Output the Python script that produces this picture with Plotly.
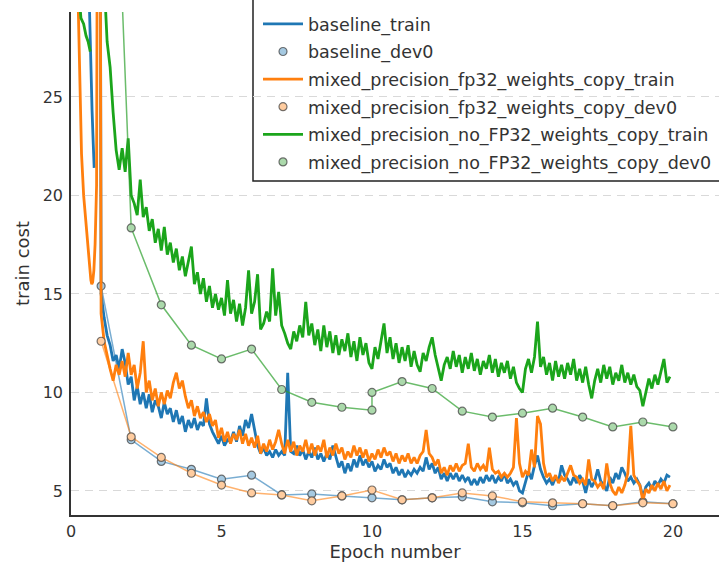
import numpy as np
import plotly.graph_objects as go

# ---------------- data ----------------
# regular sampling grid (epochs) used for the three training curves after epoch 1
train_epochs = list(np.round(np.arange(1.0, 19.95, 0.1), 1))

# early (pre-epoch-1) pieces of the training curves
baseline_pre_epochs = [0.58, 0.62, 0.66, 0.70, 0.74, 0.77]
baseline_pre_cost = [31.5, 28.5, 26.0, 24.3, 22.6, 21.4]
baseline_restart_epoch = [0.96]
baseline_restart_cost = [45.0]

fp32_pre_epochs = [0.22, 0.30, 0.35, 0.42, 0.52, 0.61, 0.66, 0.69, 0.72, 0.76, 0.80, 0.85, 0.89, 0.96]
fp32_pre_cost = [31.0, 25.0, 22.1, 20.0, 18.1, 16.4, 15.7, 15.5, 15.6, 16.2, 17.5, 20.5, 45.0, 45.0]

nofp32_pre_epochs = [0.25, 0.33, 0.42, 0.50, 0.57, 0.64]
nofp32_pre_cost = [30.5, 29.0, 28.7, 28.1, 27.8, 27.3]

baseline_train = [
    15.0, 13.8, 12.9, 12.4, 11.6, 11.9, 11.2, 12.2, 11.5, 10.4,
    10.8, 9.6, 10.3, 9.4, 10.0, 9.2, 9.9, 9.0, 9.6, 9.3,
    8.7, 9.5, 8.9, 9.2, 8.5, 9.1, 8.4, 8.8, 8.0, 8.6,
    8.2, 8.7, 8.1, 8.5, 8.3, 9.7, 8.4, 8.0, 7.7, 7.4,
    7.8, 7.3, 7.6, 7.5, 8.0, 7.5, 8.3, 7.8, 8.6, 8.2,
    8.9, 8.0, 7.3, 6.9, 7.2, 6.8, 7.0, 6.7, 7.1, 6.8,
    7.0, 6.8, 11.0, 7.0, 6.9, 7.3, 6.8, 7.1, 6.6, 7.0,
    6.7, 7.2, 6.6, 6.9, 6.5, 6.9, 6.6, 7.3, 6.7, 6.2,
    6.5, 5.9, 6.4, 6.0, 6.6, 6.2, 6.8, 6.3, 6.6, 6.2,
    6.5, 6.0, 6.3, 6.1, 6.6, 6.2, 6.4, 5.9, 6.2, 5.8,
    6.1, 5.7, 6.0, 5.8, 6.1, 5.9, 6.2, 6.0, 6.7, 6.1,
    6.4, 5.9, 6.2, 5.6, 5.9, 5.5, 5.9, 5.6, 5.9, 5.5,
    5.8, 5.5, 5.7, 5.3, 5.6, 5.3, 5.7, 5.4, 5.8, 5.5,
    5.8, 5.4, 5.7, 5.5, 5.9, 5.4, 5.6, 5.3, 5.5, 5.0,
    4.9, 5.4, 6.0, 5.6, 6.3, 6.8, 6.1, 5.7, 5.4, 5.6,
    5.3, 5.7, 5.5, 6.3, 5.8, 5.6, 5.3, 5.7, 5.4, 5.8,
    5.5, 4.9, 5.6, 5.2, 5.5, 6.1, 5.5, 5.3, 5.0, 5.7,
    5.4, 5.9, 5.6, 6.2, 5.9, 5.5, 5.7, 5.4, 5.6, 5.3,
    4.7, 5.2, 5.4, 5.1, 5.5, 5.3, 5.6, 5.4, 5.8, 5.7,
]

fp32_train = [
    14.0, 12.6, 11.8, 11.2, 10.6, 11.4, 10.9, 11.6, 10.8, 12.0,
    10.9, 11.4, 10.2, 11.0, 12.6, 10.0, 10.6, 9.6, 10.2, 9.3,
    10.0, 9.4, 10.1, 9.7, 10.5, 11.0, 10.2, 10.6, 9.8, 9.2,
    9.6, 8.8, 9.3, 8.7, 9.0, 8.5, 8.9, 8.3, 8.6, 7.7,
    8.2, 7.5, 8.0, 7.4, 7.9, 7.6, 8.1, 7.4, 7.9, 7.3,
    7.7, 7.2, 7.8, 6.9, 7.4, 7.0, 7.6, 7.1, 7.5, 8.1,
    7.4, 6.9, 7.6, 7.0, 7.5, 6.8, 7.3, 7.0, 7.6, 6.9,
    7.4, 6.8, 7.3, 7.0, 7.6, 6.7, 7.2, 6.8, 7.4, 6.9,
    7.2, 6.6, 7.0, 6.7, 7.3, 6.8, 7.2, 6.7, 7.1, 6.5,
    6.9, 6.6, 7.1, 6.7, 7.2, 6.8, 7.0, 6.5, 6.9, 6.4,
    6.8, 6.5, 6.9, 6.4, 6.7, 6.4, 6.8, 7.0, 8.1, 6.9,
    6.7, 6.3, 6.6, 5.9, 6.2, 5.8, 6.3, 6.0, 6.4, 6.0,
    6.3, 6.4, 7.4, 6.2, 6.0, 6.4, 6.1, 6.3, 6.0, 7.2,
    6.1, 5.9, 6.0, 5.7, 5.9, 5.7, 5.9, 6.2, 8.7, 6.4,
    5.7, 6.0, 5.8, 7.1, 6.2, 8.8, 8.4, 6.4, 5.7, 5.9,
    5.5, 5.8, 5.4, 5.7, 5.5, 5.9, 6.3, 5.8, 5.7, 5.4,
    5.6, 5.3, 6.6, 5.6, 5.5, 5.2, 5.4, 5.1, 6.4, 5.4,
    5.0, 4.8, 5.2, 4.9, 5.3, 5.9, 8.3, 5.8, 5.5, 5.3,
    4.5, 5.1, 4.9, 5.3, 5.0, 5.4, 5.1, 5.5, 5.0, 5.3,
]

nofp32_train = [
    45.0, 31.0, 27.8, 26.5, 24.2, 22.3, 21.3, 22.4, 21.2, 22.9,
    20.0, 19.6, 19.0, 20.8, 18.9, 19.4, 18.2, 18.8, 17.6, 18.3,
    17.2, 18.4, 17.0, 17.6, 16.6, 17.3, 16.2, 16.9, 15.9, 16.6,
    17.4, 15.5, 16.1, 15.0, 15.8, 14.6, 15.4, 14.3, 15.0, 14.2,
    14.8, 13.9, 15.7, 14.0, 14.7, 13.6, 14.5, 13.4, 14.3, 16.2,
    14.0, 14.6, 16.0, 13.2, 13.5, 14.1, 13.6, 16.3, 13.9, 15.1,
    13.4, 13.0, 12.5, 12.2, 13.1, 12.6, 13.4, 12.8, 14.6, 12.9,
    13.5, 12.4, 13.2, 12.1, 13.4, 12.3, 13.1, 12.0, 12.9, 11.9,
    12.7, 12.1, 13.0, 11.8, 12.6, 11.6, 12.8, 11.9, 12.5, 11.5,
    11.2, 12.3, 11.7, 12.6, 13.5, 12.0, 12.8, 11.7, 12.5, 11.5,
    12.3, 11.6, 12.4, 11.3, 12.1, 11.4, 11.05, 12.0, 11.6, 12.3,
    12.8, 11.9, 11.3, 10.6, 11.4, 11.8, 11.2, 12.1, 11.3, 11.9,
    11.0, 11.8, 11.2, 12.0, 11.1, 11.7, 10.9, 11.6, 11.2, 11.9,
    11.0, 11.7, 10.8, 11.5, 11.0, 11.6, 10.7, 11.3, 10.5, 10.2,
    10.0, 11.2, 11.7, 11.0, 11.8, 13.6, 11.3, 11.8, 10.9, 11.5,
    10.6, 11.6, 10.8, 11.4, 10.7, 11.5, 10.9, 11.7, 10.6, 11.2,
    10.5, 11.3, 10.4, 9.7, 10.6, 11.2, 10.5, 11.4, 10.7, 11.3,
    10.4, 11.0, 10.6, 11.4, 10.5, 11.0, 10.4, 10.9, 10.3, 10.1,
    9.3, 10.0, 10.7, 10.2, 10.9, 10.4, 11.0, 11.7, 10.5, 10.8,
]

dev_epochs = list(range(1, 21))
baseline_dev = [15.4, 7.6, 6.5, 6.1, 5.6, 5.8, 4.8, 4.85, 4.75, 4.65,
                4.55, 4.65, 4.7, 4.45, 4.4, 4.25, 4.35, 4.25, 4.45, 4.35]
fp32_dev = [12.6, 7.75, 6.7, 5.9, 5.3, 4.9, 4.8, 4.5, 4.75, 5.05,
            4.55, 4.65, 4.9, 4.75, 4.45, 4.4, 4.35, 4.25, 4.4, 4.35]
nofp32_dev_epochs = [1, 2, 3, 4, 5, 6, 7, 8, 9, 10, 10, 11, 12, 13, 14, 15, 16, 17, 18, 19, 20]
nofp32_dev = [57.0, 18.35, 14.45, 12.4, 11.7, 12.2, 10.15, 9.5, 9.25, 9.1, 10.0,
              10.55, 10.2, 9.05, 8.75, 8.95, 9.2, 8.75, 8.25, 8.5, 8.25]

names = ["baseline_train", "baseline_dev0",
         "mixed_precision_fp32_weights_copy_train", "mixed_precision_fp32_weights_copy_dev0",
         "mixed_precision_no_FP32_weights_copy_train", "mixed_precision_no_FP32_weights_copy_dev0"]

# ---------------- styling ----------------
FONT = "DejaVu Sans"
TXT = "#333333"
BLUE, ORANGE, GREEN = "#1f77b4", "#ff7f0e", "#1ba51b"
DEV_LINE = {"b": "rgba(31,119,180,0.6)", "o": "rgba(255,127,14,0.6)", "g": "rgba(44,160,44,0.7)"}
DEV_FILL = {"b": "#a5c9e1", "o": "#ffcc9f", "g": "#abd9ab"}
EDGE = "rgba(70,70,70,0.75)"

fig = go.Figure()


def train_trace(x, y, color, name, grp):
    fig.add_trace(go.Scatter(x=x, y=y, mode="lines", name=name, legendgroup=grp,
                             line=dict(color=color, width=2.8), connectgaps=False,
                             hoverinfo="skip"))


def dev_traces(x, y, key, name, grp):
    fig.add_trace(go.Scatter(x=x, y=y, mode="lines", showlegend=False, legendgroup=grp,
                             line=dict(color=DEV_LINE[key], width=1.5), hoverinfo="skip"))
    fig.add_trace(go.Scatter(x=x, y=y, mode="markers", name=name, legendgroup=grp,
                             marker=dict(size=8, color=DEV_FILL[key],
                                         line=dict(color=EDGE, width=1.2)),
                             hoverinfo="skip"))


train_trace(baseline_pre_epochs + [None] + baseline_restart_epoch + train_epochs,
            baseline_pre_cost + [None] + baseline_restart_cost + baseline_train,
            BLUE, names[0], "g0")
dev_traces(dev_epochs, baseline_dev, "b", names[1], "g1")
train_trace(fp32_pre_epochs + train_epochs, fp32_pre_cost + fp32_train, ORANGE, names[2], "g2")
dev_traces(dev_epochs, fp32_dev, "o", names[3], "g3")
train_trace(nofp32_pre_epochs + [None] + train_epochs, nofp32_pre_cost + [None] + nofp32_train,
            GREEN, names[4], "g4")
dev_traces(nofp32_dev_epochs, nofp32_dev, "g", names[5], "g5")

W, H = 719, 565
L, R, T, B = 71, 0, 12, 50
pw, ph = W - L - R, H - T - B


def px_x(px):
    return (px - L) / pw


def px_y(py):
    return (H - B - py) / ph


# legend frame (the frame runs off the top/right of the picture, as in the reference)
fig.add_shape(type="rect", xref="paper", yref="paper",
              x0=px_x(253), x1=px_x(760), y0=px_y(181), y1=px_y(-20),
              line=dict(color="#222222", width=1.5), fillcolor="white", layer="between")

fig.update_layout(
    width=W, height=H,
    margin=dict(l=L, r=R, t=T, b=B, autoexpand=False),
    paper_bgcolor="white", plot_bgcolor="white",
    font=dict(family=FONT, size=16, color=TXT),
    showlegend=True,
    legend=dict(x=px_x(258), y=px_y(6), xanchor="left", yanchor="top",
                bgcolor="rgba(0,0,0,0)", borderwidth=0, itemwidth=40,
                font=dict(family=FONT, size=17.5, color=TXT),
                traceorder="grouped", tracegroupgap=1.85),
    xaxis=dict(range=[0, 21.53], tickvals=[0, 5, 10, 15, 20], showgrid=False, zeroline=False,
               showline=True, linecolor="#333333", linewidth=1.5, ticks="",
               ticklabelstandoff=1,
               tickfont=dict(family=FONT, size=16, color=TXT),
               title=dict(text="Epoch number", font=dict(family=FONT, size=18, color=TXT), standoff=3)),
    yaxis=dict(range=[3.78, 29.31], tickvals=[5, 10, 15, 20, 25], showgrid=True,
               gridcolor="#d9d9d9", griddash="8px,6px", gridwidth=1, zeroline=False,
               showline=True, linecolor="#333333", linewidth=1.5, ticks="",
               ticklabelstandoff=3,
               tickfont=dict(family=FONT, size=16, color=TXT),
               title=dict(text="train cost", font=dict(family=FONT, size=18, color=TXT), standoff=8)),
)

# the page's default 8px body margin would shift the figure; remove it
fig.write_html("out.html", config={"displayModeBar": False},
               post_script="document.body.style.margin='0';document.body.style.overflow='hidden';")
